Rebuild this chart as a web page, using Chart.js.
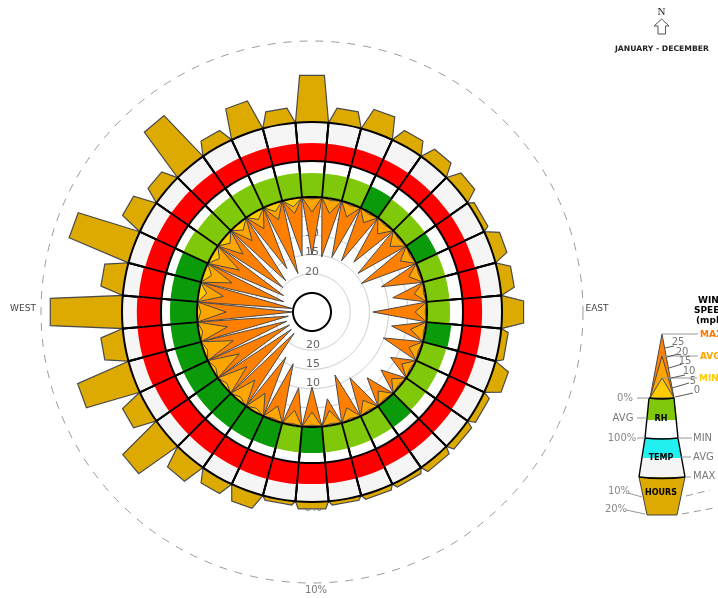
<!DOCTYPE html>
<html><head><meta charset="utf-8">
<style>html,body{margin:0;padding:0;background:#fff;overflow:hidden}canvas{display:block}</style>
<script src="https://cdn.jsdelivr.net/npm/chart.js@4"></script>
</head><body><canvas id="c" width="718" height="598"></canvas>
<script>
// Directions, clockwise from north, one sector per 10 degrees
const directions = [0,10,20,30,40,50,60,70,80,90,100,110,120,130,140,150,160,170,180,190,200,210,220,230,240,250,260,270,280,290,300,310,320,330,340,350];
// Percent of hours per direction
const hoursPct = [5.8,1.9,2.7,1.7,1.7,1.7,0.7,1.7,1.7,2.7,0.9,1.9,0.9,0.9,0.9,0.6,0.6,0.5,0.9,0.5,1.9,1.7,2.7,5.8,2.8,6.8,2.8,8.9,2.8,7.9,2.8,1.9,6.9,1.7,3.8,1.9];
// Temperature average, position between band MIN (0) and MAX (100)
const tempAvg = [46,46,46,46,46,46,46,46,49,49,49,49,49,51,51,51,54,54,54,56,56,56,59,59,59,62,62,62,59,56,54,54,51,49,49,46];
// Relative humidity average, percent
const rhAvg = [67,67,67,67,64,64,64,64,64,64,69,67,67,67,72,72,72,72,72,72,72,75,75,75,75,75,75,75,75,75,75,72,72,72,69,69];
// Humidity colour class: 1 = dark green, 0 = light green
const rhClass = [0,0,0,1,0,0,1,0,0,0,1,0,0,0,1,0,0,0,1,0,1,1,1,1,1,1,1,1,1,1,0,0,0,0,0,0];
// Wind speeds, mph
const windMax = [15.1,15.4,14.8,14.6,13,14.3,15.1,10.7,8.6,14.1,8.9,10.2,6.3,6.5,7.6,10.2,12.5,7,10.4,9.9,15.6,16.4,22.7,22.9,23.2,22.9,23.7,25,24.7,22.1,21.4,20,19.3,16.9,19.3,15.1];
const windAvg = [3.9,3.9,3.6,3.1,3.4,3.4,3.4,3.1,2.9,3.1,3.9,3.1,2.9,2.9,3.1,3.4,3.4,3.9,3.9,3.9,3.9,5.5,6.8,7.8,8.1,8.1,7.6,7.6,6.5,7.8,8.1,6.5,5.7,4.9,4.4,3.9];
const windMin = [0.5,0.5,0.5,0.5,0.5,0.5,0.5,0.5,0.5,0.5,0.5,0.5,0.5,0.5,0.5,0.5,0.5,0.5,0.5,0.5,0.5,1,1,1,1,1,1,1,2.1,2.1,2.1,2.1,2.1,2.1,2.1,2.1];
const windTicks = [10,15,20];
const windGrid = [5,10,15,20];

// Mapping of units to the wheel's radial scale
const R_OUT = 190, R_MID = 151, R_IN = 115;
const rHours = p => R_OUT + p * 8.1;
const rTemp = t => R_MID + t * (R_OUT - R_MID) / 100;
const rRh = h => R_IN + h * (R_MID - R_IN) / 100;
const rWind = s => R_IN - s * 3.84;

const SUB = 20; // half-degree label steps per sector
const labels = [];
directions.forEach(d => { for (let k = 0; k < SUB; k++) labels.push(d - 5 + k * 0.5); });

function spike(values) {
  const out = labels.map(() => null);
  values.forEach((v, i) => { out[i * SUB] = R_IN; out[i * SUB + SUB / 2] = rWind(v); });
  return out;
}
function bars(values) {
  const out = labels.map(() => null);
  values.forEach((v, i) => {
    const half = v < 1.2 ? 8 : 6;
    out[i * SUB] = R_OUT;
    out[i * SUB + SUB / 2 - half] = rHours(v);
    out[i * SUB + SUB / 2 + half] = rHours(v);
  });
  return out;
}
const circle = r => labels.map(() => r);
const ring = r => directions.map(() => r);
const STROKE = '#4a4a4a';
const stack = [
  {type:'radar', label:'Hours', data:bars(hoursPct), fill:{value:0}, backgroundColor:'#dcaa00', borderColor:STROKE, borderWidth:1.2, pointRadius:0, spanGaps:true, tension:0},
  {label:'Band', data:ring(R_OUT), backgroundColor:'#f5f5f5', borderColor:'#000', borderWidth:2},
  {label:'Temperature', data:tempAvg.map(rTemp), backgroundColor:'#ff0000', borderWidth:0},
  {label:'Band', data:ring(R_MID), backgroundColor:'#ffffff', borderColor:'#000', borderWidth:2},
  {label:'RH', data:rhAvg.map(rRh), backgroundColor:rhClass.map(c => c ? '#0a9a0a' : '#80c80a'), borderWidth:0},
  {label:'Calm', data:ring(R_IN), backgroundColor:'#ffffff', borderColor:'#ffffff', borderWidth:1.5}
];
windGrid.forEach(s => stack.push({type:'radar', label:'grid', data:circle(rWind(s)), fill:false, borderColor:'#c4c4c4', borderWidth:1, pointRadius:0, tension:0}));
const gridTop = stack.length - 1;
stack.push(
  {type:'radar', label:'Max', data:spike(windMax), fill:{value:R_IN}, backgroundColor:'#ff7f00', borderColor:STROKE, borderWidth:1, pointRadius:0, spanGaps:true, tension:0},
  {type:'radar', label:'Avg', data:spike(windAvg), fill:{value:R_IN}, backgroundColor:'#ffa500', borderColor:STROKE, borderWidth:1, pointRadius:0, spanGaps:true, tension:0},
  {type:'radar', label:'Min', data:spike(windMin), fill:{value:R_IN}, backgroundColor:'#ffcc00', borderColor:STROKE, borderWidth:1, pointRadius:0, spanGaps:true, tension:0},
  {type:'radar', label:'Calm edge', data:circle(R_IN), fill:false, borderColor:'#000', borderWidth:2, pointRadius:0, tension:0},
  {type:'radar', label:'Centre', data:circle(rWind(25)), fill:{value:0}, backgroundColor:'#fff', borderColor:'#000', borderWidth:2, pointRadius:0, tension:0}
);
stack.forEach((d, i) => d.order = stack.length - i);

const F = 'DejaVu Sans';
function text(ctx, s, x, y, size, color, bold, align, family) {
  ctx.font = (bold ? 'bold ' : '') + size + 'px "' + (family || F) + '"';
  ctx.fillStyle = color; ctx.textAlign = align || 'center'; ctx.textBaseline = 'middle';
  ctx.fillText(s, x, y);
}
function poly(ctx, pts, fill, stroke, w) {
  ctx.beginPath(); pts.forEach((p, i) => i ? ctx.lineTo(p[0], p[1]) : ctx.moveTo(p[0], p[1])); ctx.closePath();
  if (fill) { ctx.fillStyle = fill; ctx.fill(); }
  if (stroke) { ctx.strokeStyle = stroke; ctx.lineWidth = w || 1; ctx.stroke(); }
}
function line(ctx, x1, y1, x2, y2, color, w) {
  ctx.beginPath(); ctx.moveTo(x1, y1); ctx.lineTo(x2, y2); ctx.strokeStyle = color; ctx.lineWidth = w || 1; ctx.stroke();
}
const decor = {
  id:'decor',
  beforeDatasetsDraw(chart) {
    const c = chart.ctx, s = chart.scales.r, cx = s.xCenter, cy = s.yCenter;
    text(c, '0%', cx + 1, cy + 196, 11, '#888');
    text(c, '10%', cx + 4, cy + s.getDistanceFromCenterForValue(rHours(10)) + 7, 10, '#777');
    text(c, 'WEST', 23, 309, 9, '#444');
    text(c, 'EAST', 597, 309, 9, '#444');
  },
  afterDatasetDraw(chart, args) {
    if (args.index !== gridTop) return;
    const c = chart.ctx, s = chart.scales.r, cx = s.xCenter, cy = s.yCenter;
    windTicks.forEach(t => {
      const d = s.getDistanceFromCenterForValue(rWind(t));
      text(c, String(t), cx, cy - d - 2, 11, '#666');
      text(c, String(t), cx + 1, cy + d - 5, 11, '#666');
    });
  },
  afterDatasetsDraw(chart) {
    const c = chart.ctx, s = chart.scales.r;
    c.save();
    directions.forEach((d, i) => {
      const a = s.getPointPosition(i * SUB, s.getDistanceFromCenterForValue(R_IN));
      const b = s.getPointPosition(i * SUB, s.getDistanceFromCenterForValue(R_OUT));
      line(c, a.x, a.y, b.x, b.y, '#000', 1.8);
    });
    c.restore();
  },
  afterDraw(chart) {
    const c = chart.ctx;
    c.save();
    // north arrow and period
    text(c, 'N', 661.5, 12, 11, '#222', false, 'center', 'Liberation Serif');
    poly(c, [[661.7,19],[669,26],[665.5,26],[665.5,34],[658,34],[658,26],[654,26]], '#fff', '#555', 1);
    text(c, 'JANUARY - DECEMBER', 662, 49, 7.7, '#222', true);
    // legend bands
    poly(c, [[639,477],[685,477],[677,515],[647,515]], '#dcaa00', '#444', 1);
    poly(c, [[645,438],[678,438],[685,477],[639,477]], '#f5f5f5', null);
    poly(c, [[645,438],[678,438],[681,458],[643,458]], '#22f0f0', null);
    poly(c, [[649,398],[674,398],[678,438],[645,438]], '#fff', null);
    poly(c, [[649,398],[674,398],[677,420],[647,420]], '#80c80a', null);
    line(c, 649, 398, 645, 438, '#000', 1.4); line(c, 674, 398, 678, 438, '#000', 1.4);
    line(c, 645, 438, 639, 477, '#000', 1.4); line(c, 678, 438, 685, 477, '#000', 1.4);
    // legend spikes
    poly(c, [[662,334],[674,398],[650,398]], '#ff7f00', STROKE, 1);
    poly(c, [[662,356],[674,398],[650,398]], '#ffa500', STROKE, 1);
    poly(c, [[662,378],[674,398],[650,398]], '#ffcc00', STROKE, 1);
    // curved edges
    [[649,398,674,398,400],[645,438,678,438,440],[639,477,685,477,480]].forEach(e => {
      c.beginPath(); c.moveTo(e[0], e[1]); c.quadraticCurveTo((e[0]+e[2])/2, e[4], e[2], e[3]);
      c.strokeStyle = '#000'; c.lineWidth = 1.6; c.stroke();
    });
    // leader lines
    const g = '#999';
    line(c, 662, 334, 698, 334, g); line(c, 662, 356, 698, 356, g); line(c, 662, 378, 697, 378, g);
    line(c, 637, 398, 649, 398, g); line(c, 637, 418, 647, 418, g); line(c, 637, 438, 645, 438, g);
    line(c, 678, 438, 692, 438, g); line(c, 681, 457, 691, 457, g); line(c, 685, 477, 691, 477, g);
    line(c, 665, 348, 674, 346, '#555'); line(c, 667, 357, 678, 354, '#555'); line(c, 669, 368, 682, 364, '#555');
    line(c, 671, 378, 685, 375, '#555'); line(c, 672, 388, 689, 383, '#555'); line(c, 675, 397, 693, 393, '#555');
    line(c, 628, 493, 642, 497, g); line(c, 626, 510, 645, 514, g);
    c.setLineDash([7, 5]);
    line(c, 686, 496, 710, 490, g); line(c, 682, 514, 714, 508, g);
    c.setLineDash([]);
    // legend text
    [['25',678,342],['20',682,352],['15',685,361],['10',689,371],['5',693,381],['0',697,390]].forEach(t => text(c, t[0], t[1], t[2], 10, '#777'));
    text(c, 'MAX', 700, 335, 9, '#ff7700', true, 'left');
    text(c, 'AVG', 700, 357, 9, '#ffa500', true, 'left');
    text(c, 'MIN', 699, 379, 9, '#ffcc00', true, 'left');
    text(c, 'WIND', 698, 301, 9, '#000', true, 'left');
    text(c, 'SPEED', 694, 311, 9, '#000', true, 'left');
    text(c, '(mph)', 696, 321, 9, '#000', true, 'left');
    text(c, '0%', 625, 398, 10, '#888');
    text(c, 'AVG', 623, 418, 10, '#777');
    text(c, '100%', 622, 438, 10, '#888');
    text(c, 'MIN', 693, 438, 10, '#777', false, 'left');
    text(c, 'AVG', 693, 457, 10, '#777', false, 'left');
    text(c, 'MAX', 693, 476, 10, '#777', false, 'left');
    text(c, '10%', 619, 491, 10, '#888');
    text(c, '20%', 616, 509, 10, '#888');
    text(c, 'RH', 661, 419, 8, '#000', true);
    text(c, 'TEMP', 661, 458, 8, '#000', true);
    text(c, 'HOURS', 661, 493, 8, '#000', true);
    c.restore();
  }
};

new Chart(document.getElementById('c'), {
  type:'polarArea',
  data:{labels, datasets:stack},
  plugins:[decor],
  options:{
    responsive:false, animation:false,
    layout:{padding:{left:0, right:94, top:26, bottom:0}},
    plugins:{legend:{display:false}, tooltip:{enabled:false}},
    scales:{r:{
      type:'radialLinear', min:0, max:286, startAngle:-5,
      afterBuildTicks(axis){ axis.ticks = [{value:0},{value:rHours(10)}]; },
      ticks:{display:false},
      angleLines:{display:false},
      pointLabels:{display:false},
      grid:{circular:true, color:'#9a9a9a', lineWidth:1},
      border:{dash:[8,8]}
    }}
  }
});
</script></body></html>
